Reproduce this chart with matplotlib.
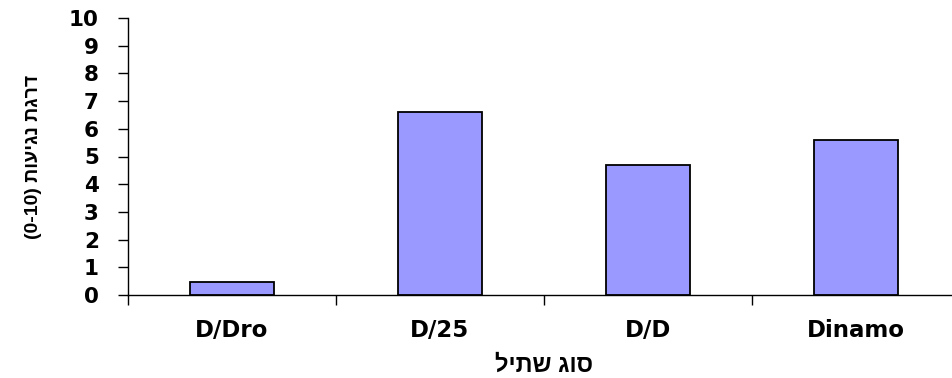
import matplotlib
matplotlib.use("Agg")
import matplotlib.pyplot as plt
from matplotlib.ticker import FixedLocator

categories = ["D/Dro", "D/25", "D/D", "Dinamo"]
values = [0.47, 6.6, 4.7, 5.6]
yticks = list(range(0, 11))
ylabel_text = "(0-10) תועיגנ תגרד"   # visual order of "דרגת נגיעות (0-10)"
xlabel_text = "ליתש גוס"             # visual order of "סוג שתיל"

plt.rcParams['font.family'] = ['DejaVu Sans']

fig = plt.figure(figsize=(9.52, 3.78), dpi=100)
ax = fig.add_axes([128/952, 83/378, 832/952, 277/378])

x = list(range(len(categories)))
ax.bar(x, values, width=0.405, color="#9999FF", edgecolor="black", linewidth=1.3, zorder=3)

ax.set_xlim(-0.5, len(categories) - 0.5)
ax.set_ylim(0, 10)
ax.set_yticks(yticks)
ax.set_yticklabels([str(t) for t in yticks], fontsize=15.5, fontweight="bold")
ax.set_xticks(x)
ax.set_xticklabels(categories, fontsize=16.5, fontweight="bold")
ax.xaxis.set_minor_locator(FixedLocator([i - 0.5 for i in range(len(categories) + 1)]))

ax.tick_params(axis="x", which="major", length=0, pad=17)
ax.tick_params(axis="x", which="minor", length=7, width=1, direction="out")
ax.tick_params(axis="y", which="major", length=7, width=1, direction="out", pad=14)

for s in ["top", "right"]:
    ax.spines[s].set_visible(False)
for s in ["left", "bottom"]:
    ax.spines[s].set_linewidth(1)
    ax.spines[s].set_color("black")

heb_font = ["Liberation Sans", "DejaVu Sans"]
ax.set_ylabel(ylabel_text, fontsize=14, fontweight="bold", family=heb_font)
ax.yaxis.set_label_coords(-0.113, 0.5)
ax.set_xlabel(xlabel_text, fontsize=17, fontweight="bold", family=heb_font)
ax.xaxis.set_label_coords(0.5, -0.253)
ax.xaxis.label.set_va("center")
ax.yaxis.label.set_va("center")

fig.savefig("out.png", dpi=100)
